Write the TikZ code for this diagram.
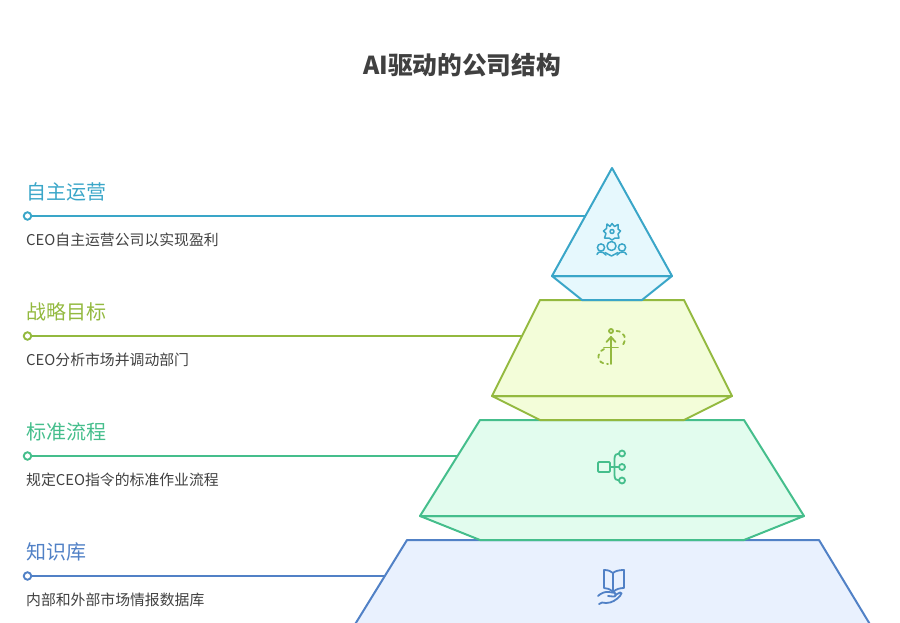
\documentclass[tikz,border=0pt]{standalone}
\usepackage{fontspec}
\setmainfont{Noto Sans CJK SC}
\definecolor{cA}{HTML}{3AA6C8}\definecolor{fA}{HTML}{E6F8FD}
\definecolor{cB}{HTML}{93B93F}\definecolor{fB}{HTML}{F3FDD9}
\definecolor{cC}{HTML}{45BE8C}\definecolor{fC}{HTML}{E2FCEE}
\definecolor{cD}{HTML}{5181C6}\definecolor{fD}{HTML}{E9F1FE}
\definecolor{txt}{HTML}{404040}
\tikzset{
 tier/.style={line width=2pt,line join=round},
 icon/.style={line width=1.8pt,line cap=round,line join=round},
 lead/.style={line width=2pt},
 dot/.style={circle,draw,fill=white,line width=1.9pt,inner sep=0pt,minimum size=7.5pt},
 head/.style={anchor=west,inner sep=0pt,font=\fontsize{20}{24}\selectfont},
 desc/.style={anchor=west,inner sep=0pt,text=txt,font=\fontsize{14.85}{18}\selectfont},
}
\begin{document}
\begin{tikzpicture}[x=1pt,y=-1pt]
\useasboundingbox (0,0) rectangle (900,623);
\clip (0,0) rectangle (900,623);
\node[anchor=center,inner sep=0pt,text=txt,font=\fontsize{24.7}{28}\selectfont\bfseries] (title) at (462,65) {AI驱动的公司结构};

% leaders
\coordinate (ea) at (586,216);\coordinate (eb) at (524,336);\coordinate (ec) at (459,456);\coordinate (ed) at (386,576);
\node[dot,draw=cA] (da) at (27.5,216) {};
\node[dot,draw=cB] (db) at (27.5,336) {};
\node[dot,draw=cC] (dc) at (27.5,456) {};
\node[dot,draw=cD] (dd) at (27.5,576) {};
\draw[lead,cA] (da)--(ea);
\draw[lead,cB] (db)--(eb);
\draw[lead,cC] (dc)--(ec);
\draw[lead,cD] (dd)--(ed);

% tier D
\draw[tier,cD,fill=fD] (407,540)--(819,540)--(871,626)--(354,626)--cycle;
% tier C
\draw[tier,cC,fill=fC] (420,516)--(480,540)--(744,540)--(804,516)--cycle;
\draw[tier,cC,fill=fC] (480,420)--(744,420)--(804,516)--(420,516)--cycle;
% tier B
\draw[tier,cB,fill=fB] (492,396)--(540,420)--(684,420)--(732,396)--cycle;
\draw[tier,cB,fill=fB] (540,300)--(684,300)--(732,396)--(492,396)--cycle;
% tier A
\draw[tier,cA,fill=fA] (552,276)--(582,300)--(642,300)--(672,276)--cycle;
\draw[tier,cA,fill=fA] (612,168)--(672,276)--(552,276)--cycle;

% labels
\node[head,text=cA] (ha) at (26,192) {自主运营};
\node[desc] (ta) at (26,240) {CEO自主运营公司以实现盈利};
\node[head,text=cB] (hb) at (26,312) {战略目标};
\node[desc] (tb) at (26,360) {CEO分析市场并调动部门};
\node[head,text=cC] (hc) at (26,432) {标准流程};
\node[desc] (tc) at (26,480) {规定CEO指令的标准作业流程};
\node[head,text=cD] (hd) at (26,552) {知识库};
\node[desc] (td) at (26,600) {内部和外部市场情报数据库};

% icon A
\begin{scope}[icon,cA,line width=1.5pt]
\draw (607,224)--(610,226.5)--(612,223.5)--(614.5,226.5)--(618,224.5)--(618,229)--(620.5,231)--(618,234)--(619,238)--(615,238)--(612,240)--(609,238)--(604.5,238)--(606,233.5)--(603.5,231)--(606.5,228.5)--cycle;
\draw (612,231.5) circle (2);
\draw (611.5,246) circle (4.5);
\draw (601,247.5) circle (3.6);
\draw (622,247.5) circle (3.6);
\draw (597,254.5)..controls (598,251.5) and (601,251.5) .. (603,252.5)--(606,255);
\draw (626.5,254.5)..controls (625,251.5) and (622,251.5) .. (620,252.5)--(617,255);
\draw (605,252.5)--(611.5,256)--(618,252.5);
\end{scope}

% icon B
\begin{scope}[icon,cB]
\draw (611,364)--(611,337);
\draw (606.5,342)--(611,337)--(615.5,342);
\draw (604,347.5)--(618,347.5);
\draw (611,331) circle (2);
\draw[dash pattern=on 3.5pt off 4pt] (616.5,331)..controls (624,331) and (628,339) .. (622,346);
\draw[dash pattern=on 3.5pt off 4pt] (604,349)..controls (596,353) and (596,364) .. (608,364);
\end{scope}

% icon C
\begin{scope}[icon,cC]
\draw[rounded corners=1pt] (598,462) rectangle (610,472);
\draw (610,467)--(619,467);
\draw (619,453.5)..controls (616,453.5) and (614.5,455) .. (614.5,459)--(614.5,475)..controls (614.5,479) and (616,480.5) .. (619,480.5);
\draw (622,453.5) circle (3);
\draw (622,467) circle (3);
\draw (622,480.5) circle (3);
\end{scope}

% icon D
\begin{scope}[icon,cD]
\draw (604,570)..controls (608,570) and (611,571) .. (613,573)..controls (615,571) and (619,570) .. (624,570)--(624,588)..controls (620,588) and (616,589) .. (613,592)..controls (610,589) and (607,588) .. (604,588)--cycle;
\draw (613,573)--(613,592);
\draw (598,596)..controls (601,593) and (605,591.5) .. (609,592)--(615,593)..controls (617,594) and (616,597) .. (613,596.5)--(608,596);
\draw (615,595)--(620,592.5)..controls (622,592) and (622,594) .. (620,596)..controls (616,600) and (612,603) .. (606,603)--(602,602.5)--(599,604);
\end{scope}
\end{tikzpicture}
\end{document}
